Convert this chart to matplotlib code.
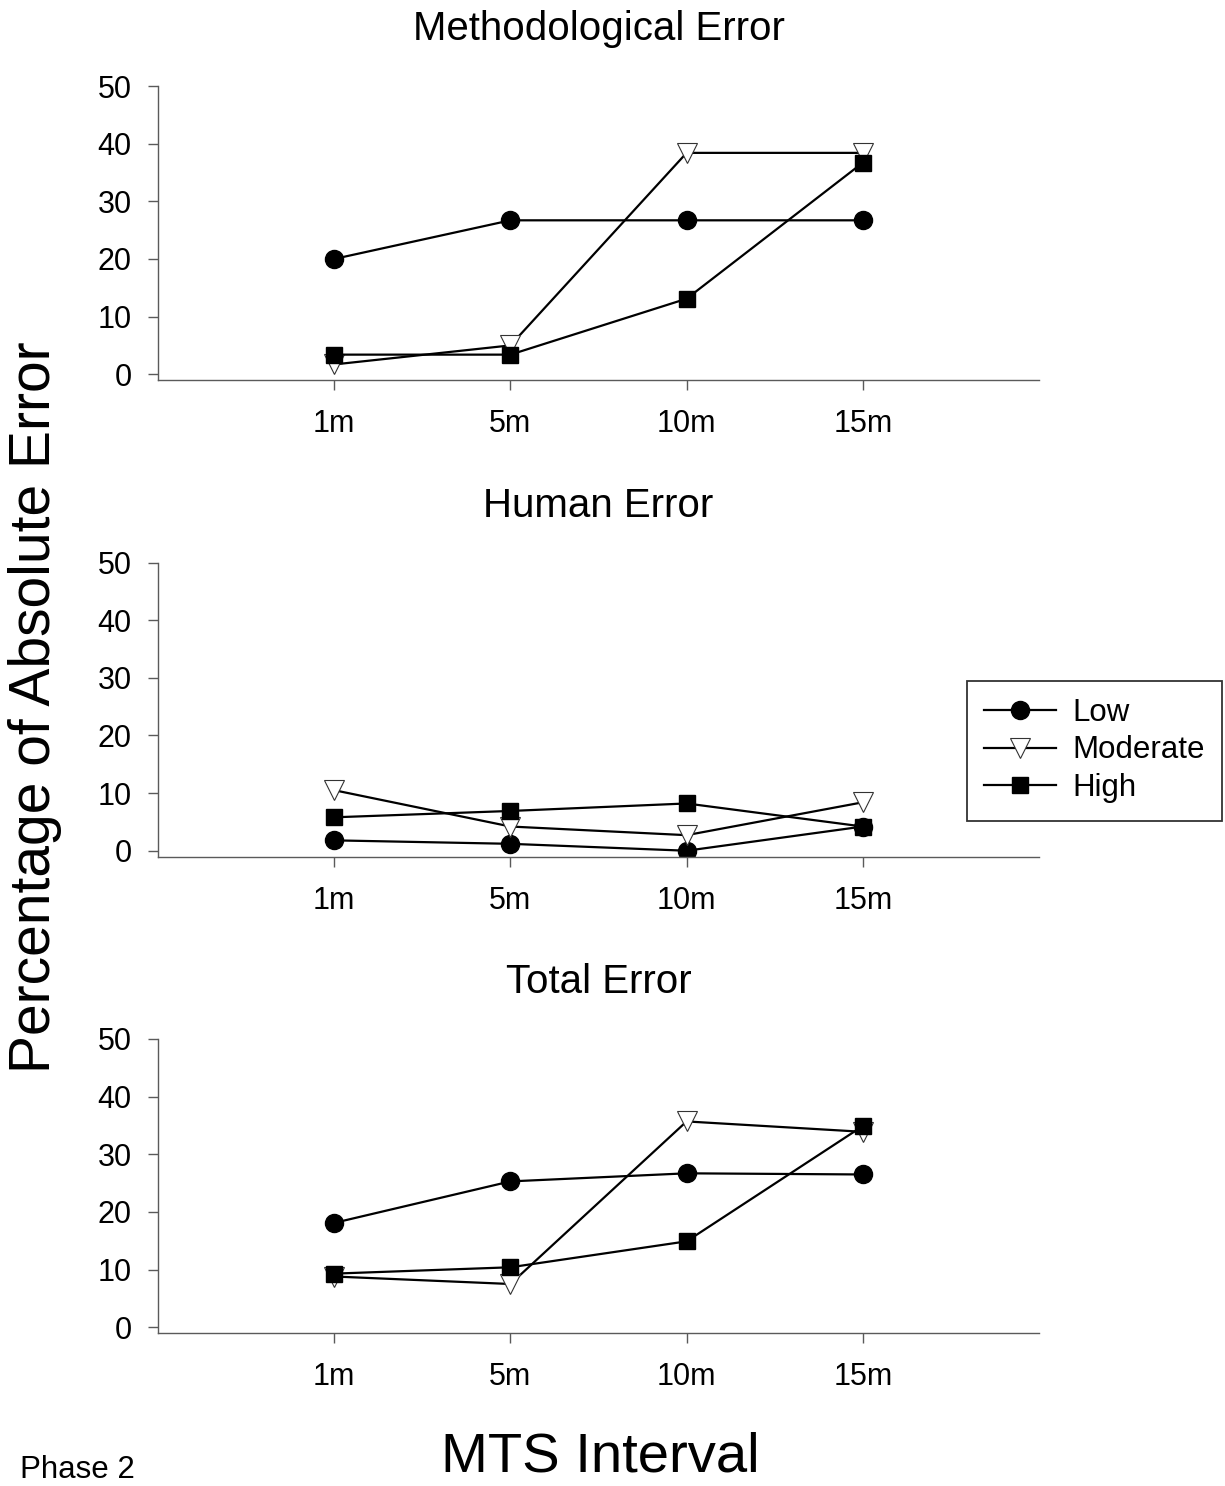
import matplotlib
matplotlib.use("Agg")
import matplotlib.pyplot as plt

plt.rcParams["font.family"] = ["Liberation Sans", "DejaVu Sans"]

intervals = ["1m", "5m", "10m", "15m"]
x_pos = [1, 2, 3, 4]

panel_titles = ["Methodological Error", "Human Error", "Total Error"]

# values (percent)
method_low = [20.0, 26.7, 26.7, 26.7]
method_moderate = [1.7, 5.0, 38.4, 38.4]
method_high = [3.4, 3.4, 13.1, 36.7]

human_low = [1.8, 1.2, 0.0, 4.2]
human_moderate = [10.5, 4.2, 2.7, 8.4]
human_high = [5.8, 6.9, 8.2, 4.2]

total_low = [18.1, 25.3, 26.7, 26.5]
total_moderate = [8.8, 7.5, 35.7, 33.9]
total_high = [9.3, 10.4, 14.9, 34.9]

panels = [
    (method_low, method_moderate, method_high),
    (human_low, human_moderate, human_high),
    (total_low, total_moderate, total_high),
]

W, H = 1225, 1486
fig = plt.figure(figsize=(W / 100, H / 100), dpi=100)

left = 158 / W
width = (1039 - 158) / W
height = 294 / H
bottoms_px = [380, 856.5, 1333]

spine_col = "#5a5a5a"
handles = None

for title, (low, mod, high), bpx in zip(panel_titles, panels, bottoms_px):
    ax = fig.add_axes([left, 1 - bpx / H, width, height])

    h1, = ax.plot(x_pos, low, color="black", lw=1.6, marker="o",
                  markersize=13, markerfacecolor="black",
                  markeredgecolor="black", label="Low")
    h2, = ax.plot(x_pos, mod, color="black", lw=1.6, marker="v",
                  markersize=14, markerfacecolor="white",
                  markeredgecolor="#333333", markeredgewidth=0.8,
                  label="Moderate")
    h3, = ax.plot(x_pos, high, color="black", lw=1.6, marker="s",
                  markersize=11.5, markerfacecolor="black",
                  markeredgecolor="black", label="High")
    handles = [h1, h2, h3]

    ax.set_xlim(0, 5)
    ax.set_ylim(-1, 50)
    ax.set_xticks(x_pos)
    ax.set_xticklabels(intervals)
    ax.set_yticks([0, 10, 20, 30, 40, 50])

    for side in ["top", "right"]:
        ax.spines[side].set_visible(False)
    for side in ["left", "bottom"]:
        ax.spines[side].set_color(spine_col)
        ax.spines[side].set_linewidth(1.0)

    ax.tick_params(axis="both", direction="out", length=7, width=1.0,
                   color=spine_col, labelsize=22, labelcolor="black")
    ax.tick_params(axis="x", pad=14)
    ax.tick_params(axis="y", pad=12)

    ax.set_title(title, fontsize=29, pad=33)

leg = fig.legend(
    handles=handles,
    loc="center",
    bbox_to_anchor=(1094.5 / W, 1 - 750.5 / H),
    fontsize=22.5,
    frameon=True,
    fancybox=False,
    handlelength=2.3,
    handletextpad=0.55,
    labelspacing=0.25,
    borderpad=0.55,
)
leg.get_frame().set_edgecolor("black")
leg.get_frame().set_linewidth(1.3)

fig.text(35 / W, 1 - 707 / H, "Percentage of Absolute Error",
         rotation=90, ha="center", va="center", fontsize=41)
fig.text(600 / W, 1 - 1472 / H, "MTS Interval",
         ha="center", va="baseline", fontsize=40.5)
fig.text(20 / W, 1 - 1478 / H, "Phase 2",
         ha="left", va="baseline", fontsize=22.5)

fig.savefig("out.png", dpi=100)
